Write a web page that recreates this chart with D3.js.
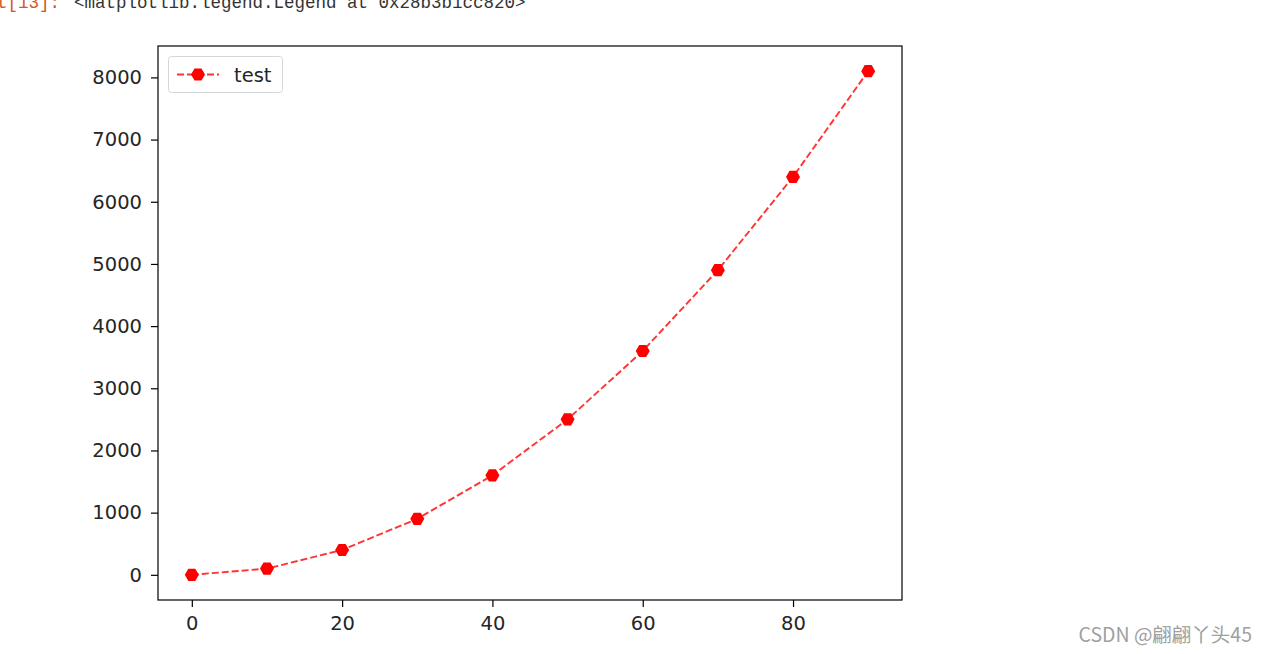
<!DOCTYPE html>
<html><head><meta charset="utf-8">
<script src="https://cdn.jsdelivr.net/npm/d3@7"></script>
<style>body{margin:0;background:#fff;overflow:hidden}</style>
</head><body>
<svg id="c" width="1267" height="654"></svg>
<script>
const xValues = [0, 10, 20, 30, 40, 50, 60, 70, 80, 90];
const yValues = [0, 100, 400, 900, 1600, 2500, 3600, 4900, 6400, 8100];
const xTicks = [0, 20, 40, 60, 80];
const yTicks = [0, 1000, 2000, 3000, 4000, 5000, 6000, 7000, 8000];
const seriesName = "test";

const svg = d3.select("#c");
const L = 158, R = 902, T = 46, B = 600;
const x = d3.scaleLinear().domain([-4.5, 94.5]).range([L, R]);
const y = d3.scaleLinear().domain([-405, 8505]).range([B, T]);

// header text (cut off at top edge)
const hdr = svg.append("text").attr("x", -3).attr("y", 8)
  .style("font-family", "Liberation Mono, DejaVu Sans Mono, monospace").style("font-size", "17.5px");
hdr.append("tspan").attr("fill", "#d9531e").text("t[13]:");
hdr.append("tspan").attr("fill", "#333").attr("x", 74).text("<matplotlib.legend.Legend at 0x28b3b1cc820>");

const font = "DejaVu Sans, sans-serif";
const xa = svg.append("g").attr("transform", `translate(0,${B})`)
  .call(d3.axisBottom(x).tickValues(xTicks).tickSize(7).tickPadding(9).tickFormat(d3.format("d")));
const ya = svg.append("g").attr("transform", `translate(${L},0)`)
  .call(d3.axisLeft(y).tickValues(yTicks).tickSize(7).tickPadding(9).tickFormat(d3.format("d")));
[xa, ya].forEach(a => {
  a.select(".domain").remove();
  a.selectAll("text").style("font-family", font).style("font-size", "19.5px").attr("fill", "#262626");
  a.selectAll("line").attr("stroke", "#000").attr("stroke-width", 1.2);
});

const line = d3.line().x((d, i) => x(xValues[i])).y(d => y(d));
svg.append("path").datum(yValues).attr("d", line)
  .attr("fill", "none").attr("stroke", "rgba(255,0,0,0.8)").attr("stroke-width", 1.9)
  .attr("stroke-dasharray", "7,3");

const hex = r => {
  const pts = d3.range(6).map(k => {
    const a = Math.PI / 3 * k;
    return [r * Math.cos(a), r * Math.sin(a)];
  });
  return "M" + pts.map(p => p.join(",")).join("L") + "Z";
};
svg.append("g").selectAll("path").data(yValues).join("path")
  .attr("d", hex(7))
  .attr("transform", (d, i) => `translate(${x(xValues[i])},${y(d)})`)
  .attr("fill", "#ff0000");

svg.append("rect").attr("x", L).attr("y", T).attr("width", R - L).attr("height", B - T)
  .attr("fill", "none").attr("stroke", "#000").attr("stroke-width", 1.2);

// legend
const lg = svg.append("g");
lg.append("rect").attr("x", 168.5).attr("y", 56.5).attr("width", 114).attr("height", 36).attr("rx", 3)
  .attr("fill", "rgba(255,255,255,0.8)").attr("stroke", "#d6d6d6");
lg.append("line").attr("x1", 177).attr("x2", 219).attr("y1", 74.5).attr("y2", 74.5)
  .attr("stroke", "rgba(255,0,0,0.8)").attr("stroke-width", 1.9).attr("stroke-dasharray", "7,3");
lg.append("path").attr("d", hex(7)).attr("transform", "translate(198,74.5)").attr("fill", "#ff0000");
lg.append("text").attr("x", 234).attr("y", 81.5).text(seriesName)
  .style("font-family", font).style("font-size", "19.5px").attr("fill", "#262626");

svg.append("text").attr("x", 1252).attr("y", 642).attr("text-anchor", "end")
  .style("font-family", "Noto Sans CJK SC, sans-serif").style("font-size", "19.5px").attr("fill", "#a0a0a0")
  .text("CSDN @翩翩丫头45");
</script>
</body></html>
